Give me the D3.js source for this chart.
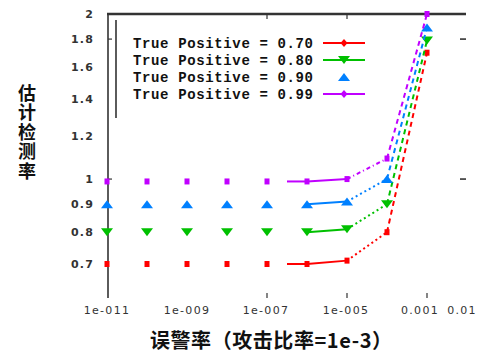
<!DOCTYPE html>
<html>
<head>
<meta charset="utf-8">
<script src="https://cdn.jsdelivr.net/npm/d3@7/dist/d3.min.js"></script>
<style>
  html, body { margin: 0; padding: 0; background: #fff; }
  svg { display: block; }
</style>
</head>
<body>
<svg id="chart" width="486" height="361"></svg>
<script>
// False-alarm rate (log) vs. estimated detection rate (log), one series per true-positive level
const falseAlarm = [1e-11, 1e-10, 1e-9, 1e-8, 1e-7, 1e-6, 1e-5, 1e-4, 1e-3];
const seriesNames = ["True Positive = 0.70", "True Positive = 0.80", "True Positive = 0.90", "True Positive = 0.99"];
const tp70 = [0.70, 0.70, 0.70, 0.70, 0.70, 0.70, 0.71, 0.80, 1.70];
const tp80 = [0.80, 0.80, 0.80, 0.80, 0.80, 0.80, 0.81, 0.90, 1.79];
const tp90 = [0.90, 0.90, 0.90, 0.90, 0.90, 0.90, 0.91, 1.00, 1.89];
const tp99 = [0.99, 0.99, 0.99, 0.99, 0.99, 0.99, 1.00, 1.09, 2.00];
const xTickValues = [1e-11, 1e-9, 1e-7, 1e-5, 1e-3, 1e-2];
const xTickLabels = ["1e-011", "1e-009", "1e-007", "1e-005", "0.001", "0.01"];
const yTickValues = [0.7, 0.8, 0.9, 1, 1.2, 1.4, 1.6, 1.8, 2];
const yTickLabels = ["0.7", "0.8", "0.9", "1", "1.2", "1.4", "1.6", "1.8", "2"];
const xTitle = "误警率（攻击比率=1e-3）";
const yTitle = "估计检测率";

const colors = ["#ff0000", "#00c000", "#0080ff", "#c000ff"];
const markers = ["square", "down", "up", "square"];
const legendMarkers = ["diamond", "down", "up", "diamond"];
const legendHasLine = [true, true, false, true];
// segment i joins point i to point i+1
const segStyles = [
  [null, null, null, null, "half", "solid", "dot", "dash"],
  [null, null, null, null, null, "solid", "dot", "dash"],
  [null, null, null, null, null, "solid", "dot", "dash"],
  [null, null, null, null, "half", "solid", "dashdot", "dash"]
];
const dashes = { solid: null, half: null, dot: "2,3", dashdot: "4,3,1,3", dash: "5,4" };

const series = [tp70, tp80, tp90, tp99].map((vals, i) => ({
  name: seriesNames[i], color: colors[i], marker: markers[i],
  points: vals.map((v, j) => ({ x: falseAlarm[j], y: v }))
}));

const svg = d3.select("#chart");
const x = d3.scaleLog().domain([1e-11, 1e-2]).range([107, 467]);
const y = d3.scaleLog().domain([0.7, 2]).range([264, 14]);
const axisColor = "#333";

function markerPath(kind, cx, cy) {
  if (kind === "up") return `M${cx - 6},${cy + 4}L${cx + 6},${cy + 4}L${cx},${cy - 4}Z`;
  if (kind === "down") return `M${cx - 6},${cy - 4}L${cx + 6},${cy - 4}L${cx},${cy + 4}Z`;
  if (kind === "diamond") return `M${cx},${cy - 4}L${cx + 3.5},${cy}L${cx},${cy + 4}L${cx - 3.5},${cy}Z`;
  return `M${cx - 2.5},${cy - 3}h5v6h-5Z`;
}

// axes frame: left axis and top border
svg.append("line").attr("x1", x(1e-11) + 1).attr("x2", x(1e-11) + 1)
  .attr("y1", y(2) - 1).attr("y2", 298).attr("stroke", axisColor).attr("stroke-width", 1.6);
svg.append("line").attr("x1", x(1e-11)).attr("x2", x(1e-2) - 1)
  .attr("y1", y(2)).attr("y2", y(2)).attr("stroke", axisColor).attr("stroke-width", 2.4);
// legend box edge
svg.append("line").attr("x1", 116).attr("x2", 116).attr("y1", 20).attr("y2", 118)
  .attr("stroke", axisColor).attr("stroke-width", 1.6);

// tick marks
const xTickShown = [1e-7, 1e-5, 1e-3];
svg.append("g").selectAll("line").data(xTickShown).join("line")
  .attr("x1", d => x(d)).attr("x2", d => x(d)).attr("y1", 293).attr("y2", 298)
  .attr("stroke", axisColor).attr("stroke-width", 1.2);
svg.append("g").selectAll("line").data([1e-7, 1e-5]).join("line")
  .attr("x1", d => x(d)).attr("x2", d => x(d)).attr("y1", y(2)).attr("y2", y(2) + 5)
  .attr("stroke", axisColor).attr("stroke-width", 1.2);
svg.append("g").selectAll("line").data([1.8, 1]).join("line")
  .attr("x1", 460).attr("x2", 466).attr("y1", d => y(d)).attr("y2", d => y(d))
  .attr("stroke", axisColor).attr("stroke-width", 1.6);
svg.append("g").selectAll("line").data([1.8, 1]).join("line")
  .attr("x1", x(1e-11) + 1).attr("x2", x(1e-11) + 5).attr("y1", d => y(d)).attr("y2", d => y(d))
  .attr("stroke", axisColor).attr("stroke-width", 1.2);

// tick labels
const tickFont = "'DejaVu Sans', sans-serif";
const xLabelShift = [0, 0, -1, -1, -7, -5];
svg.append("g").selectAll("text").data(xTickValues).join("text")
  .attr("x", (d, i) => x(d) + xLabelShift[i]).attr("y", 314)
  .attr("text-anchor", "middle").attr("font-family", tickFont).attr("font-size", 11)
  .attr("letter-spacing", 1.3).attr("fill", "#333")
  .text((d, i) => xTickLabels[i]);
svg.append("g").selectAll("text").data(yTickValues).join("text")
  .attr("x", 94).attr("y", d => y(d) + 4)
  .attr("text-anchor", "end").attr("font-family", tickFont).attr("font-size", 11)
  .attr("font-weight", "bold").attr("letter-spacing", 1.2).attr("fill", "#333")
  .text((d, i) => yTickLabels[i]);

// axis titles
const cjk = "'Noto Sans CJK SC', sans-serif";
svg.append("text").attr("x", 150).attr("y", 348)
  .attr("font-family", cjk).attr("font-size", 20).attr("font-weight", "bold").attr("fill", "#111")
  .attr("textLength", 242).attr("lengthAdjust", "spacing")
  .text(xTitle);
svg.append("text").attr("x", 27).attr("y", 84)
  .attr("writing-mode", "tb").attr("glyph-orientation-vertical", 0)
  .attr("font-family", cjk).attr("font-size", 18).attr("letter-spacing", 1.5)
  .attr("font-weight", "bold").attr("fill", "#111")
  .text(yTitle);

// series lines, segment by segment
series.forEach((s, si) => {
  const g = svg.append("g");
  segStyles[si].forEach((st, i) => {
    if (!st) return;
    const a = s.points[i], b = s.points[i + 1];
    let x1 = x(a.x), y1 = y(a.y);
    const x2 = x(b.x), y2 = y(b.y);
    if (st === "half") { x1 = (x1 + x2) / 2; y1 = (y1 + y2) / 2; }
    g.append("line").attr("x1", x1).attr("y1", y1).attr("x2", x2).attr("y2", y2)
      .attr("stroke", s.color).attr("stroke-width", 2)
      .attr("stroke-dasharray", dashes[st]);
  });
  g.selectAll("path").data(s.points).join("path")
    .attr("d", d => markerPath(s.marker, x(d.x), y(d.y)))
    .attr("fill", s.color);
});

// legend
const legendFont = "'Liberation Mono', monospace";
series.forEach((s, i) => {
  const ly = 43 + i * 17;
  svg.append("text").attr("x", 313).attr("y", ly + 5)
    .attr("text-anchor", "end").attr("font-family", legendFont).attr("font-size", 14)
    .attr("font-weight", "bold").attr("fill", "#111")
    .attr("textLength", 180).attr("lengthAdjust", "spacing")
    .text(s.name);
  if (legendHasLine[i]) {
    svg.append("line").attr("x1", 323).attr("x2", 365).attr("y1", ly).attr("y2", ly)
      .attr("stroke", s.color).attr("stroke-width", 2);
  }
  svg.append("path").attr("d", markerPath(legendMarkers[i], 344, ly)).attr("fill", s.color);
});
</script>
</body>
</html>
